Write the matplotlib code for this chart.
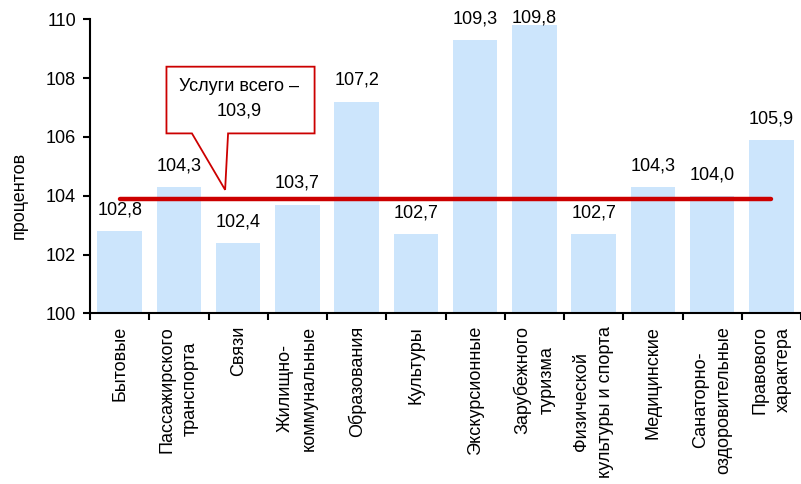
import matplotlib.pyplot as plt
import numpy as np

plt.rcParams['font.family'] = ['Liberation Sans', 'DejaVu Sans']

categories = ["Бытовые", "Пассажирского\nтранспорта", "Связи", "Жилищно-\nкоммунальные",
              "Образования", "Культуры", "Экскурсионные", "Зарубежного\nтуризма",
              "Физической\nкультуры и спорта", "Медицинские", "Санаторно-\nоздоровительные",
              "Правового\nхарактера"]
values = [102.8, 104.3, 102.4, 103.7, 107.2, 102.7, 109.3, 109.8, 102.7, 104.3, 104.0, 105.9]
total = 103.9
total_label = "Услуги всего –\n103,9"

fs = 13

fig = plt.figure(figsize=(8.01, 4.84), dpi=100)
ax = fig.add_axes([0.1124, 0.3527, 0.8876, 0.6073])

x = np.arange(len(values))
ax.bar(x, [v - 100 for v in values], bottom=100, width=0.75, color='#CCE5FC', zorder=1)
# подписи над столбцами, у верхнего края не выше 110
for xi, v in zip(x, values):
    ax.text(xi, min(v + 0.72, 110.05), f"{v:.1f}".replace('.', ','), ha='center',
            va='center', fontsize=fs, clip_on=False, zorder=6)

ax.plot([x[0], x[-1]], [total, total], color='#CC0000', lw=3.2,
        solid_capstyle='round', zorder=3)

# выноска
bx0, bx1, by0, by1 = 0.79, 3.29, 106.12, 108.39
px0, px1, tipx, tipy = 1.22, 1.83, 1.78, total + 0.3
poly = [(bx0, by0), (bx0, by1), (bx1, by1), (bx1, by0), (px1, by0),
        (tipx, tipy), (px0, by0), (bx0, by0)]
ax.add_patch(plt.Polygon(poly, closed=True, facecolor='white', edgecolor='#CC0000',
                         lw=1.3, zorder=4))
ax.text((bx0 + bx1) / 2 - 0.03, (by0 + by1) / 2 + 0.05, total_label, ha='center', va='center',
        fontsize=fs, linespacing=1.55, zorder=5)

ax.set_xlim(-0.5, len(values) - 0.5)
ax.set_ylim(100, 110)
ax.set_yticks([100, 102, 104, 106, 108, 110])
ax.set_xticks(np.arange(len(values) + 1) - 0.5)
ax.set_xticklabels([])
ax.set_xticks(x, minor=True)
ax.set_xticklabels(categories, minor=True, rotation=90, ha='center', va='top',
                   multialignment='center', fontsize=fs, linespacing=1.5)
ax.tick_params(axis='x', which='minor', length=0, pad=9)
ax.tick_params(axis='x', which='major', length=5, width=1.5, direction='out')
ax.tick_params(axis='y', length=5, width=1.5, direction='out', labelsize=fs, pad=5)

for s in ['top', 'right']:
    ax.spines[s].set_visible(False)
for s in ['left', 'bottom']:
    ax.spines[s].set_linewidth(1.5)

ax.set_ylabel("процентов", fontsize=fs)
ax.yaxis.set_label_coords(-0.087, 0.40)

fig.savefig("out.png", dpi=100)
